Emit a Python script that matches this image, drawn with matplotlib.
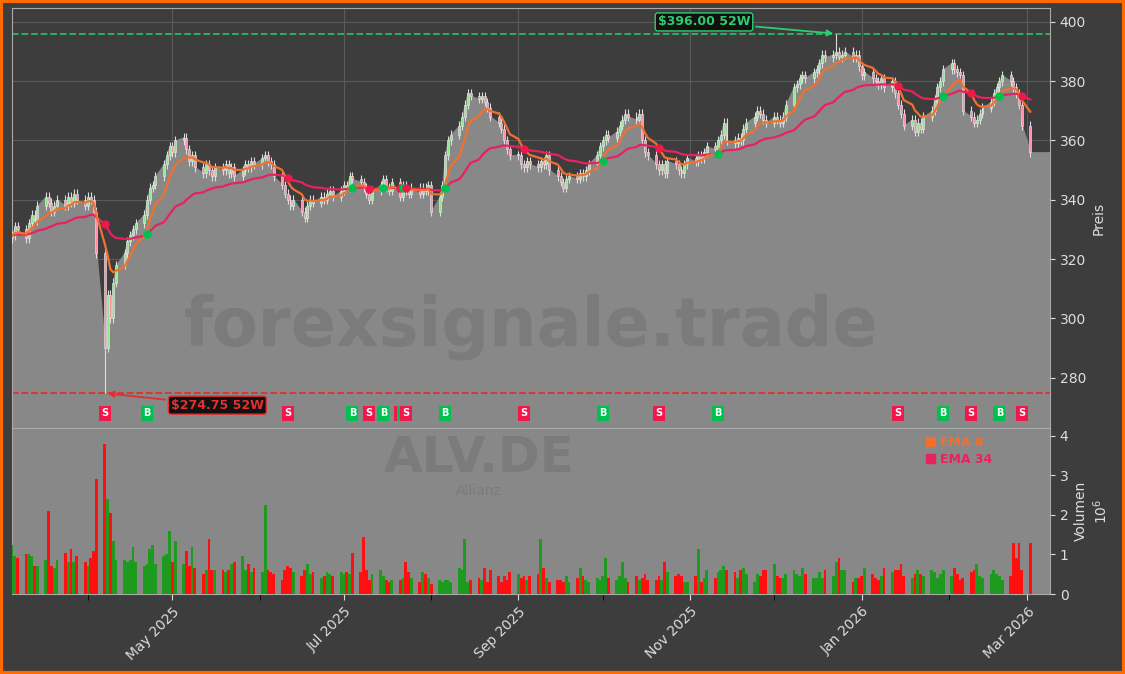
import matplotlib
matplotlib.use("Agg")
import matplotlib.pyplot as plt
import matplotlib.dates as mdates
from matplotlib.patches import Patch
import numpy as np
import pandas as pd

closes = [328,331,330,
 327,332,335,333,338, 341,339,336,338,340, 338,341,339,342,340, 338,341,340,336,322,
 290,308,300,312,318, 322,326,328,330,332, 335,340,344,345,348, 352,355,358,356,360,
 361,357,353,355,351, 349,352,350,348,351, 350,352,349,351,348, 350,352,351,353,352,
 354,355,353,352,348, 345,342,340,338,340, 336,334,338,340,339, 341,340,342,343,341,
 343,345,344,348,347, 346,344,342,340,343, 345,347,344,343,346, 341,345,343,342,344,
 342,344,343,345,336, 341,345,355,360,362, 365,368,372,376,375, 374,375,373,371,368,
 366,364,360,357,355, 355,352,351,353,352, 351,353,352,355,350, 348,346,344,347,348,
 347,349,348,350,352, 355,358,360,362,361, 363,365,367,369,368, 367,369,360,356,355,
 352,350,352,349,353, 352,350,349,352,354, 353,355,354,356,358, 357,360,362,366,360,
 359,361,360,364,366, 368,370,369,367,366, 368,367,366,368,372, 378,379,381,382,381,
 383,384,386,389,388, 389,390,388,389,390, 388,389,385,382,383, 381,380,379,381,378,
 380,376,372,369,365, 367,363,366,364,368, 370,374,378,380,384, 386,384,383,382,370,
 368,366,367,369,371, 373,376,378,380,382, 380,378,376,372,365, 356]
volumes = [1.25,0.95,0.9,
 1.0,1.0,0.95,0.7,0.7, 0.85,2.1,0.7,0.65,0.85, 1.05,0.8,1.15,0.8,0.95, 0.8,0.7,0.9,1.1,2.9,
 3.8,2.4,2.05,1.35,0.85, 0.85,0.8,0.85,1.2,0.8, 0.7,0.75,1.15,1.25,0.75, 0.95,1.0,1.6,0.8,1.35,
 0.75,1.1,0.7,1.2,0.65, 0.5,0.6,1.4,0.6,0.6, 0.6,0.55,0.6,0.75,0.8, 0.95,0.6,0.75,0.55,0.65,
 0.55,2.25,0.6,0.55,0.5, 0.35,0.6,0.7,0.65,0.55, 0.45,0.6,0.75,0.5,0.55, 0.4,0.45,0.55,0.5,0.45,
 0.55,0.5,0.55,0.5,1.05, 0.55,1.45,0.6,0.35,0.5, 0.6,0.45,0.35,0.3,0.35, 0.35,0.4,0.8,0.55,0.4,
 0.3,0.55,0.5,0.4,0.25, 0.35,0.3,0.35,0.35,0.3, 0.65,0.6,1.4,0.3,0.35, 0.4,0.35,0.65,0.3,0.6,
 0.45,0.3,0.45,0.35,0.55, 0.5,0.4,0.45,0.35,0.45, 0.5,1.4,0.65,0.4,0.3, 0.35,0.35,0.3,0.45,0.3,
 0.4,0.65,0.45,0.35,0.3, 0.4,0.35,0.45,0.9,0.4, 0.35,0.45,0.8,0.4,0.3, 0.45,0.35,0.4,0.5,0.35,
 0.35,0.45,0.35,0.8,0.55, 0.45,0.5,0.45,0.3,0.3, 0.45,1.15,0.3,0.4,0.6, 0.4,0.55,0.6,0.7,0.6,
 0.55,0.4,0.6,0.65,0.5, 0.3,0.5,0.45,0.6,0.6, 0.75,0.45,0.4,0.4,0.5, 0.6,0.5,0.45,0.65,0.5,
 0.4,0.4,0.55,0.4,0.6, 0.45,0.8,0.9,0.6,0.6, 0.3,0.4,0.4,0.45,0.65, 0.5,0.4,0.35,0.45,0.65,
 0.55,0.6,0.6,0.75,0.45, 0.4,0.5,0.6,0.5,0.45,
 0.6,0.55,0.4,0.5,0.6, 0.45,0.65,0.5,0.35,0.4, 0.55,0.6,0.75,0.45,0.4, 0.5,0.6,0.5,0.45,0.35,
 0.45,1.3,0.9,1.3,0.6, 1.3]
n = min(len(closes), len(volumes))
closes = closes[-n:]
volumes = volumes[-n:]
dates = pd.bdate_range(end="2026-03-02", periods=n)
df = pd.DataFrame({"close": closes, "vol": volumes}, index=dates)
df["open"] = df["close"].shift(1).fillna(df["close"].iloc[0] - 1)
df["high"] = df[["open", "close"]].max(axis=1) + 1.5
df["low"] = df[["open", "close"]].min(axis=1) - 1.5
low_day = df["close"].idxmin()
df.loc[low_day, "low"] = 274.75
hi_day = df["close"].idxmax()
df.loc[hi_day, "high"] = 396.0
ema8 = df["close"].ewm(span=8, adjust=False).mean()
ema34 = df["close"].ewm(span=34, adjust=False).mean()

BG = "#3d3d3d"
fig = plt.figure(figsize=(11.25, 6.74), dpi=100, facecolor=BG)
fig.patches.append(plt.Rectangle((0.001, 0.001), 0.998, 0.998, transform=fig.transFigure,
                                 fill=False, edgecolor="#ff6a00", linewidth=3))
L, R = 12/1125, 1050/1125
ax = fig.add_axes([L, 1-428/674, R-L, 420/674], facecolor=BG)
axv = fig.add_axes([L, 1-594/674, R-L, 166/674], facecolor="#888888", sharex=ax)

x = mdates.date2num(df.index)
xstart = mdates.date2num(pd.Timestamp("2025-03-05"))
xend = mdates.date2num(pd.Timestamp("2026-03-09"))
ymin, ymax = 263, 404.7
ax.fill_between(np.append(x, xend), np.append(df["close"].values, df["close"].iloc[-1]),
                ymin, color="#888888", zorder=1)
ax.text(0.5, 0.24, "forexsignale.trade", transform=ax.transAxes, ha="center", va="center",
        fontsize=48, fontweight="bold", color="#7b7b7b", zorder=2)
up = (df["close"] >= df["open"]).values
for xi, o, h, l, c, u in zip(x, df["open"], df["high"], df["low"], df["close"], up):
    col = "#8ee68e" if u else "#ff8fa8"
    ax.vlines(xi, l, h, color="#dddddd", lw=0.8, zorder=3)
    ax.bar(xi, max(abs(c-o), 0.3), bottom=min(o, c), width=0.7,
           color=col, edgecolor="#eeeeee", linewidth=0.4, zorder=4)
ax.plot(x, ema34, color="#e8225f", lw=1.6, zorder=5)
ax.plot(x, ema8, color="#f07030", lw=1.6, zorder=6)

diff = np.sign(ema8.values - ema34.values)
for i in range(10, n):
    if diff[i] != diff[i-1] and diff[i] != 0:
        buy = diff[i] > 0
        colr = "#00c050" if buy else "#f0184a"
        ax.plot(x[i], ema34.iloc[i], "o", color=colr, ms=5, zorder=7)
        ax.text(x[i], 268.0, "B" if buy else "S", ha="center", va="center", fontsize=7,
                fontweight="bold", color="white", zorder=8,
                bbox=dict(boxstyle="square,pad=0.25", fc=colr, ec="none"))

ax.axhline(396.0, color="#2db860", ls="--", lw=1.3, zorder=2)
ax.axhline(274.75, color="#e03030", ls="--", lw=1.3, zorder=2)
xh = mdates.date2num(hi_day)
xl = mdates.date2num(low_day)
ax.annotate("$396.00 52W", xy=(xh, 396.0), xytext=(xh-47, 400), fontsize=9, fontweight="bold",
            color="#2ecc71", ha="center", va="center",
            bbox=dict(boxstyle="round,pad=0.2", fc="#111111", ec="#2ecc71"),
            arrowprops=dict(arrowstyle="-|>", color="#2ecc71", lw=1.3), zorder=9)
ax.annotate("$274.75 52W", xy=(xl, 274.75), xytext=(xl+40, 270.7), fontsize=9, fontweight="bold",
            color="#e03030", ha="center", va="center",
            bbox=dict(boxstyle="round,pad=0.2", fc="#111111", ec="#e03030"),
            arrowprops=dict(arrowstyle="-|>", color="#e03030", lw=1.3), zorder=9)

ax.set_ylim(ymin, ymax)
ax.set_xlim(xstart, xend)
ax.yaxis.tick_right()
ax.yaxis.set_label_position("right")
ax.set_ylabel("Preis", color="#dddddd")
ax.grid(True, color="#5a5a5a", lw=0.8)
ax.set_axisbelow(True)
ax.tick_params(colors="#dddddd", labelbottom=False)
for s in ax.spines.values():
    s.set_color("#aaaaaa")

vcol = np.where(up, "#1e9a1e", "#ff1010")
axv.bar(x, df["vol"], width=1.0, color=vcol, zorder=3)
axv.text(0.45, 0.82, "ALV.DE", transform=axv.transAxes, ha="center", va="center",
         fontsize=36, fontweight="bold", color="#7b7b7b", zorder=1)
axv.text(0.45, 0.62, "Allianz", transform=axv.transAxes, ha="center", va="center",
         fontsize=10, color="#7b7b7b", zorder=1)
axv.set_ylim(0, 4.2)
axv.set_yticks([0, 1, 2, 3, 4])
axv.yaxis.tick_right()
axv.yaxis.set_label_position("right")
axv.set_ylabel("Volumen\n$10^6$", color="#dddddd")
axv.tick_params(colors="#dddddd")
axv.xaxis.set_major_locator(mdates.MonthLocator(bymonth=[1, 3, 5, 7, 9, 11]))
axv.xaxis.set_minor_locator(mdates.MonthLocator())
axv.xaxis.set_major_formatter(mdates.DateFormatter("%b %Y"))
axv.tick_params(axis="x", which="both", length=4)
plt.setp(axv.get_xticklabels(), rotation=45, ha="right", rotation_mode="anchor")
for s in axv.spines.values():
    s.set_color("#aaaaaa")
leg = axv.legend(handles=[Patch(color="#f07030", label="EMA 8"), Patch(color="#e8225f", label="EMA 34")],
                 loc="upper left", bbox_to_anchor=(0.87, 1.02), frameon=False, handlelength=0.7,
                 handleheight=0.7, handletextpad=0.4, labelspacing=0.3,
                 prop=dict(weight="bold", size=9))
for t, c in zip(leg.get_texts(), ["#f07030", "#e8225f"]):
    t.set_color(c)

fig.savefig("out.png", dpi=100, facecolor=BG)
